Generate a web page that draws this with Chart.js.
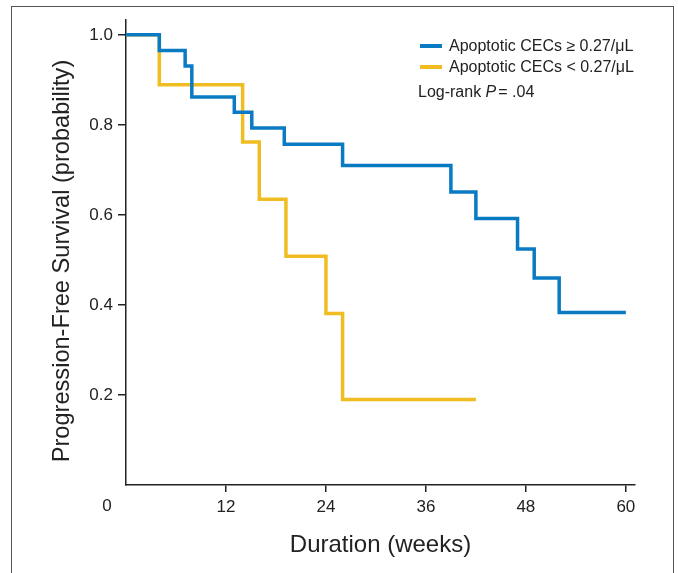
<!DOCTYPE html>
<html>
<head>
<meta charset="utf-8">
<script src="https://cdn.jsdelivr.net/npm/chart.js@4"></script>
<style>
  body { margin: 0; background: #fff; }
  #wrap { position: relative; width: 678px; height: 573px; overflow: hidden; }
  #frame { position: absolute; left: 11px; top: 6px; width: 661px; height: 620px; border: 1.5px solid #555; }
  canvas { position: absolute; left: 0; top: 0; }
</style>
</head>
<body>
<div id="wrap">
  <div id="frame"></div>
  <canvas id="km" width="678" height="573"></canvas>
</div>
<script>
// Kaplan-Meier estimates (weeks, survival probability)
const highWeeks = [0, 4, 7.1, 7.9, 13, 15.1, 19, 26, 39, 42, 47, 49, 52, 60];
const highSurv  = [1.0, 0.965, 0.931, 0.862, 0.828, 0.793, 0.757, 0.710, 0.651, 0.592, 0.524, 0.460, 0.383, 0.383];
const lowWeeks  = [0, 4, 14, 16, 19.2, 24, 26, 42];
const lowSurv   = [1.0, 0.889, 0.762, 0.635, 0.508, 0.381, 0.190, 0.190];

const xTicks = [12, 24, 36, 48, 60];
const yTicks = [0.2, 0.4, 0.6, 0.8, 1.0];
const seriesNames = ['Apoptotic CECs \u2265 0.27/\u03bcL', 'Apoptotic CECs < 0.27/\u03bcL'];
const yTitle = 'Progression-Free Survival (probability)';

const blue = '#0a7bc3';
const yellow = '#efbd22';
const ink = '#222';
const fam = '"Liberation Sans", Arial, Helvetica, sans-serif';

const pts = (xs, ys) => xs.map((x, i) => ({ x: x, y: ys[i] }));

// legend, log-rank note, y title and the lone "0" at the origin
const extras = {
  id: 'extras',
  afterDraw(chart) {
    const ctx = chart.ctx;
    ctx.save();
    ctx.textBaseline = 'middle';
    ctx.font = '16px ' + fam;
    chart.data.datasets.forEach((ds, i) => {
      const y = 46 + i * 21;
      ctx.strokeStyle = ds.borderColor;
      ctx.lineWidth = 4;
      ctx.beginPath();
      ctx.moveTo(420, y);
      ctx.lineTo(442, y);
      ctx.stroke();
      ctx.fillStyle = ink;
      ctx.fillText(ds.label, 449, y + 1);
    });
    ctx.font = '16px ' + fam;
    let x = 418;
    const y = 93;
    ctx.fillText('Log-rank ', x, y);
    x += ctx.measureText('Log-rank ').width;
    ctx.font = 'italic 16px ' + fam;
    ctx.fillText('P', x, y);
    x += ctx.measureText('P').width + 2;
    ctx.font = '16px ' + fam;
    ctx.fillText('= .04', x, y);

    ctx.font = '17px ' + fam;
    ctx.textAlign = 'center';
    ctx.fillText('0', 107, chart.chartArea.bottom + 21);

    ctx.translate(62, 261);
    ctx.rotate(-Math.PI / 2);
    ctx.font = '23.6px ' + fam;
    ctx.fillText(yTitle, 0, 0);
    ctx.restore();
  }
};

new Chart(document.getElementById('km'), {
  type: 'line',
  data: {
    datasets: [{
      label: seriesNames[0],
      data: pts(highWeeks, highSurv),
      borderColor: blue,
      borderWidth: 3.5,
      stepped: true,
      pointRadius: 0
    }, {
      label: seriesNames[1],
      data: pts(lowWeeks, lowSurv),
      borderColor: yellow,
      borderWidth: 3.5,
      stepped: true,
      pointRadius: 0
    }]
  },
  options: {
    responsive: false,
    animation: false,
    layout: { padding: { top: 20, right: 43, left: 0, bottom: 0 } },
    plugins: {
      legend: { display: false },
      tooltip: { enabled: false }
    },
    scales: {
      x: {
        type: 'linear',
        min: 0,
        max: 61.1,
        afterBuildTicks: s => { s.ticks = xTicks.map(v => ({ value: v })); },
        afterFit: s => { s.height = 88; },
        grid: { drawOnChartArea: false, tickLength: 7, color: ink, lineWidth: 1.5 },
        border: { color: ink, width: 1.5 },
        ticks: { color: ink, font: { family: fam, size: 17 }, padding: 5, maxRotation: 0 },
        title: {
          display: true,
          text: 'Duration (weeks)',
          color: ink,
          font: { family: fam, size: 24 },
          padding: { top: 0, bottom: 13 }
        }
      },
      y: {
        min: 0,
        max: 1.033,
        afterBuildTicks: s => { s.ticks = yTicks.map(v => ({ value: v })); },
        afterFit: s => { s.width = 126; },
        grid: { drawOnChartArea: false, tickLength: 8, color: ink, lineWidth: 1.5 },
        border: { color: ink, width: 1.5 },
        ticks: {
          color: ink,
          font: { family: fam, size: 17 },
          padding: 5,
          callback: v => v.toFixed(1)
        }
      }
    }
  },
  plugins: [extras]
});
</script>
</body>
</html>
